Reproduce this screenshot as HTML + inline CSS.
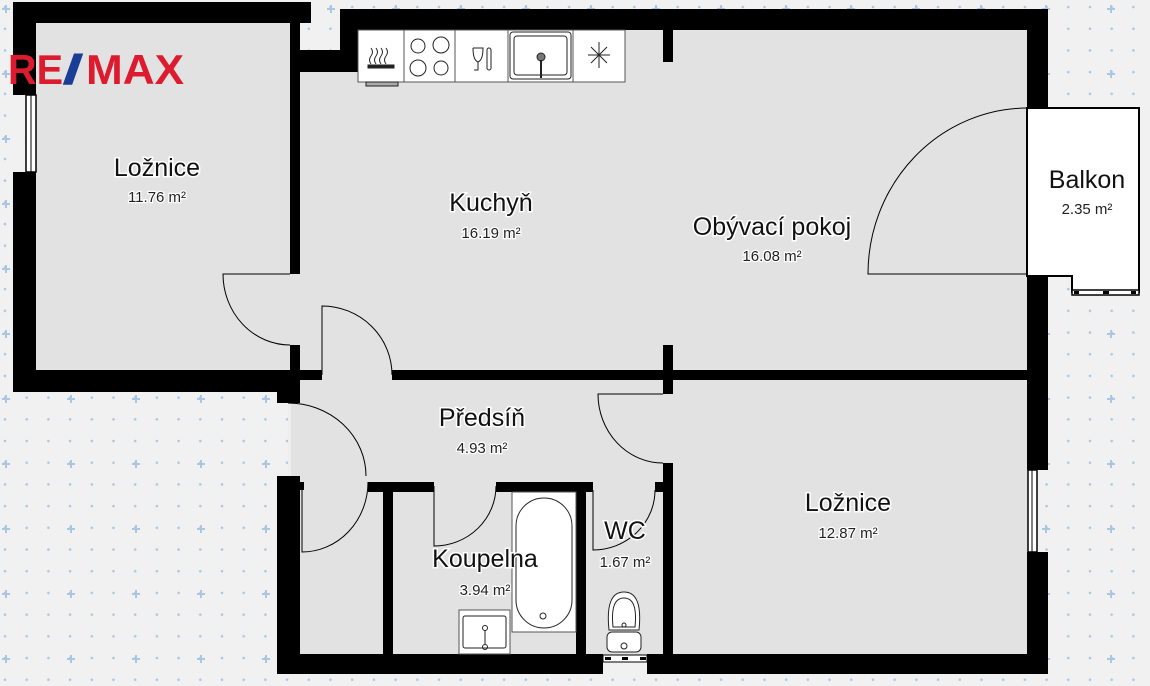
<!DOCTYPE html>
<html><head><meta charset="utf-8"><style>
html,body{margin:0;padding:0;background:#f1f1f1;}
svg{display:block;font-family:"Liberation Sans",sans-serif;}
.t{font-size:25px;fill:#111;text-anchor:middle;paint-order:stroke;stroke:#fff;stroke-width:3px;}
.s{font-size:15px;fill:#222;text-anchor:middle;paint-order:stroke;stroke:#fff;stroke-width:2.5px;}
</style></head><body>
<svg width="1150" height="686" viewBox="0 0 1150 686" xmlns="http://www.w3.org/2000/svg">
<defs>
<pattern id="dots" width="21.7" height="21.7" patternUnits="userSpaceOnUse" x="3" y="5">
<circle cx="2" cy="2" r="1.3" fill="#a9c6e3"/>
</pattern>
<pattern id="cross" width="65" height="65" patternUnits="userSpaceOnUse" x="1" y="5">
<rect x="4" y="0" width="2" height="8" fill="#a9c6e3"/><rect x="1" y="3" width="8" height="2" fill="#a9c6e3"/>
</pattern>
</defs>
<rect width="1150" height="686" fill="#f1f1f1"/>
<rect width="1150" height="686" fill="url(#dots)"/>
<rect width="1150" height="686" fill="url(#cross)"/>

<g fill="#e2e2e2">
<rect x="30" y="20" width="265" height="355"/>
<rect x="295" y="60" width="735" height="315"/>
<rect x="340" y="25" width="690" height="50"/>
<rect x="288" y="375" width="380" height="112"/>
<rect x="665" y="375" width="365" height="285"/>
<rect x="295" y="487" width="370" height="170"/>
</g>
<rect x="288" y="403" width="3" height="73" fill="#eeeeee"/>
<path d="M1027 108 H1139 V292 H1072 V276 H1027 Z" fill="#fff" stroke="#000" stroke-width="2"/>
<rect x="1072" y="290" width="67" height="5" fill="#fff" stroke="#000" stroke-width="1.5"/>
<rect x="1074" y="291" width="5" height="3" fill="#000"/><rect x="1103" y="291" width="6" height="3" fill="#000"/><rect x="1131" y="291" width="5" height="3" fill="#000"/>

<g fill="#000">
<rect x="13" y="2" width="298" height="21"/>
<rect x="13" y="2" width="23" height="93"/>
<rect x="13" y="172" width="23" height="220"/>
<rect x="13" y="370" width="287" height="22"/>
<rect x="290" y="2" width="10" height="272"/>
<rect x="290" y="345" width="10" height="58"/>
<rect x="277" y="380" width="23" height="23"/>
<rect x="300" y="50" width="40" height="22"/>
<rect x="340" y="9" width="708" height="21"/>
<rect x="340" y="9" width="18" height="63"/>
<rect x="1027" y="9" width="21" height="99"/>
<rect x="663" y="30" width="10" height="32"/>
<rect x="300" y="370" width="22" height="10"/>
<rect x="392" y="370" width="635" height="10"/>
<rect x="663" y="345" width="10" height="49"/>
<rect x="1027" y="276" width="21" height="194"/>
<rect x="1027" y="552" width="21" height="122"/>
<rect x="277" y="654" width="326" height="20"/>
<rect x="647" y="654" width="401" height="20"/>
<rect x="277" y="476" width="23" height="198"/>
<rect x="300" y="482" width="4" height="8"/>
<rect x="368" y="482" width="66" height="10"/>
<rect x="496" y="482" width="97" height="10"/>
<rect x="655" y="482" width="8" height="10"/>
<rect x="383" y="482" width="10" height="172"/>
<rect x="576" y="482" width="10" height="172"/>
<rect x="663" y="463" width="10" height="211"/>
</g>
<rect x="26" y="95" width="10" height="77" fill="#fff" stroke="#000" stroke-width="1.5"/>
<line x1="31" y1="95" x2="31" y2="172" stroke="#000" stroke-width="1"/>
<rect x="1028" y="470" width="9" height="82" fill="#fff" stroke="#000" stroke-width="1.5"/>
<line x1="1032" y1="470" x2="1032" y2="552" stroke="#000" stroke-width="1"/>
<rect x="603" y="655" width="44" height="7" fill="#fff" stroke="#000" stroke-width="1"/>
<rect x="605" y="657" width="6" height="3" fill="#000"/><rect x="622" y="657" width="6" height="3" fill="#000"/><rect x="640" y="657" width="6" height="3" fill="#000"/>

<g fill="none" stroke="#000" stroke-width="1">
<path d="M290 274 H223 A67 71 0 0 0 290 345"/>
<path d="M322 375 V306 A70 69 0 0 1 392 375"/>
<path d="M1027 274 H868 A160 166 0 0 1 1027 108"/>
<path d="M288 403 A78 73 0 0 1 366 476"/>
<path d="M302 482 V552 A66 70 0 0 0 368 482"/>
<path d="M434 486 V546 A62 60 0 0 0 496 486"/>
<path d="M593 490 V550 A62 60 0 0 0 655 490"/>
<path d="M663 394 H598 A65 69 0 0 0 663 463"/>
</g>

<g fill="#fff" stroke="#555" stroke-width="1">
<rect x="358" y="30" width="46" height="52"/>
<rect x="404" y="30" width="51" height="52"/>
<rect x="455" y="30" width="53" height="52"/>
<rect x="508" y="30" width="65" height="52"/>
<rect x="573" y="30" width="52" height="52"/>
</g>
<g fill="none" stroke="#222" stroke-width="1">
<rect x="366" y="82" width="32" height="4" fill="#aaa"/>
<path d="M371 48q3 4 0 8q-3 4 0 8 M376 48q3 4 0 8q-3 4 0 8 M381 48q3 4 0 8q-3 4 0 8 M386 48q3 4 0 8q-3 4 0 8"/>
<rect x="368" y="65" width="26" height="3" fill="#222"/>
<circle cx="418" cy="46" r="7"/><circle cx="441" cy="45" r="8"/><circle cx="418" cy="68" r="8"/><circle cx="441" cy="68" r="7"/>
<path d="M473 48h10q0 12 -5 14v8h-4 M478 62v8"/><path d="M473 48q0 12 5 14"/>
<rect x="487" y="48" width="4" height="22" rx="2"/>
<rect x="510" y="32" width="61" height="47" rx="3"/><rect x="514" y="36" width="53" height="39" rx="3"/>
<path d="M599 42v26 M588 55h22 M591 47l16 16 M607 47l-16 16"/>
</g>
<circle cx="541" cy="57" r="4" fill="#777" stroke="#222"/>
<line x1="541" y1="60" x2="541" y2="78" stroke="#222" stroke-width="2"/>

<rect x="512" y="492" width="64" height="140" fill="#fff" stroke="#555" stroke-width="1"/>
<rect x="516" y="498" width="56" height="130" rx="28" fill="#fff" stroke="#222" stroke-width="1"/>
<circle cx="543" cy="616" r="3" fill="none" stroke="#222"/>
<rect x="459" y="610" width="51" height="44" fill="#fff" stroke="#555"/>
<rect x="463" y="616" width="43" height="32" rx="2" fill="none" stroke="#222"/>
<circle cx="485" cy="628" r="2.5" fill="none" stroke="#222"/><circle cx="485" cy="647" r="2.5" fill="none" stroke="#222"/>
<line x1="485" y1="630" x2="485" y2="645" stroke="#222"/>
<path d="M609 630 Q605 592 624 592 Q643 592 639 630 Z" fill="#fff" stroke="#222"/>
<path d="M613 627 Q610 598 624 598 Q638 598 635 627 Z" fill="none" stroke="#222"/>
<circle cx="624" cy="625" r="2" fill="none" stroke="#222"/>
<rect x="607" y="632" width="34" height="20" rx="5" fill="#fff" stroke="#222"/>
<circle cx="624" cy="646" r="3" fill="none" stroke="#222"/>

<text x="8" y="84" font-size="42" font-weight="bold" fill="#dc1c2e" textLength="55" lengthAdjust="spacingAndGlyphs">RE</text>
<text x="62" y="84" font-size="42" font-weight="bold" fill="#1a3e96" textLength="22" lengthAdjust="spacingAndGlyphs">/</text>
<text x="86" y="84" font-size="42" font-weight="bold" fill="#dc1c2e" textLength="98" lengthAdjust="spacingAndGlyphs">MAX</text>

<text class="t" x="157" y="176">Ložnice</text><text class="s" x="157" y="202">11.76 m²</text>
<text class="t" x="491" y="211">Kuchyň</text><text class="s" x="491" y="238">16.19 m²</text>
<text class="t" x="772" y="235">Obývací pokoj</text><text class="s" x="772" y="261">16.08 m²</text>
<text class="t" x="1087" y="188">Balkon</text><text class="s" x="1087" y="214">2.35 m²</text>
<text class="t" x="482" y="426">Předsíň</text><text class="s" x="482" y="453">4.93 m²</text>
<text class="t" x="485" y="567">Koupelna</text><text class="s" x="485" y="595">3.94 m²</text>
<text class="t" x="625" y="539">WC</text><text class="s" x="625" y="567">1.67 m²</text>
<text class="t" x="848" y="511">Ložnice</text><text class="s" x="848" y="538">12.87 m²</text>
</svg>
</body></html>
